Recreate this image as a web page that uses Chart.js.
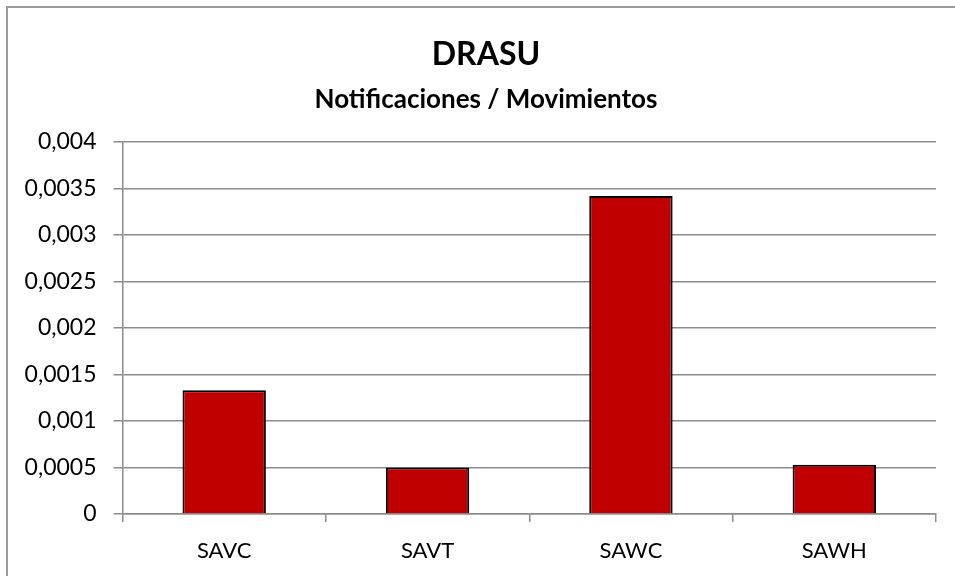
<!DOCTYPE html>
<html>
<head>
<meta charset="utf-8">
<script src="https://cdn.jsdelivr.net/npm/chart.js@4"></script>
<style>
html,body{margin:0;padding:0;background:#fff;}
#wrap{width:955px;height:576px;}
</style>
</head>
<body>
<div id="wrap"><canvas id="c" width="955" height="576"></canvas></div>
<script>
const categories = ["SAVC", "SAVT", "SAWC", "SAWH"];
const values = [0.00133, 0.0005, 0.00342, 0.00053];
const yTickLabels = ["0", "0,0005", "0,001", "0,0015", "0,002", "0,0025", "0,003", "0,0035", "0,004"];
const titleText = "DRASU";
const subtitleText = "Notificaciones / Movimientos";

const FONT = "Lato, 'Noto Sans', sans-serif";
const GRID = "#8c8c8c";

const decorPlugin = {
  id: 'decor',
  afterDraw(chart) {
    const ctx = chart.ctx;
    ctx.save();
    ctx.strokeStyle = "#9a9a9a";
    ctx.lineWidth = 2;
    ctx.strokeRect(7, 7, chart.width + 20, chart.height + 20);
    ctx.fillStyle = "#000";
    ctx.textAlign = "center";
    ctx.textBaseline = "alphabetic";
    ctx.font = "bold 32px " + FONT;
    ctx.fillText(titleText, 486, 65);
    ctx.font = "bold 26px " + FONT;
    ctx.fillText(subtitleText, 486, 108);
    ctx.restore();
  }
};

new Chart(document.getElementById('c'), {
  type: 'bar',
  data: {
    labels: categories,
    datasets: [{
      data: values,
      backgroundColor: "#c00000",
      borderColor: "#000000",
      borderWidth: 2,
      barPercentage: 0.41,
      categoryPercentage: 1.0
    }]
  },
  options: {
    responsive: false,
    animation: false,
    devicePixelRatio: 1,
    layout: { padding: { left: 0, right: 19, top: 142, bottom: 10 } },
    plugins: {
      legend: { display: false },
      tooltip: { enabled: false },
      title: { display: false },
      subtitle: { display: false }
    },
    scales: {
      x: {
        offset: true,
        grid: {
          offset: true,
          drawOnChartArea: false,
          drawTicks: true,
          tickLength: 8,
          color: GRID,
          lineWidth: 1.5
        },
        border: { display: true, color: GRID, width: 1.5 },
        ticks: {
          color: "#000",
          font: { family: FONT, size: 22 },
          padding: 16
        },
        afterFit(scale) { scale.height = 52; }
      },
      y: {
        min: 0,
        max: 0.004,
        grid: {
          color: GRID,
          lineWidth: 1.5,
          tickLength: 9
        },
        border: { display: true, color: GRID, width: 1.5 },
        ticks: {
          stepSize: 0.0005,
          color: "#000",
          font: { family: FONT, size: 23 },
          padding: 17,
          callback: function(value, index) { return yTickLabels[index]; }
        },
        afterFit(scale) { scale.width = 122.5; }
      }
    }
  },
  plugins: [decorPlugin]
});
</script>
</body>
</html>
